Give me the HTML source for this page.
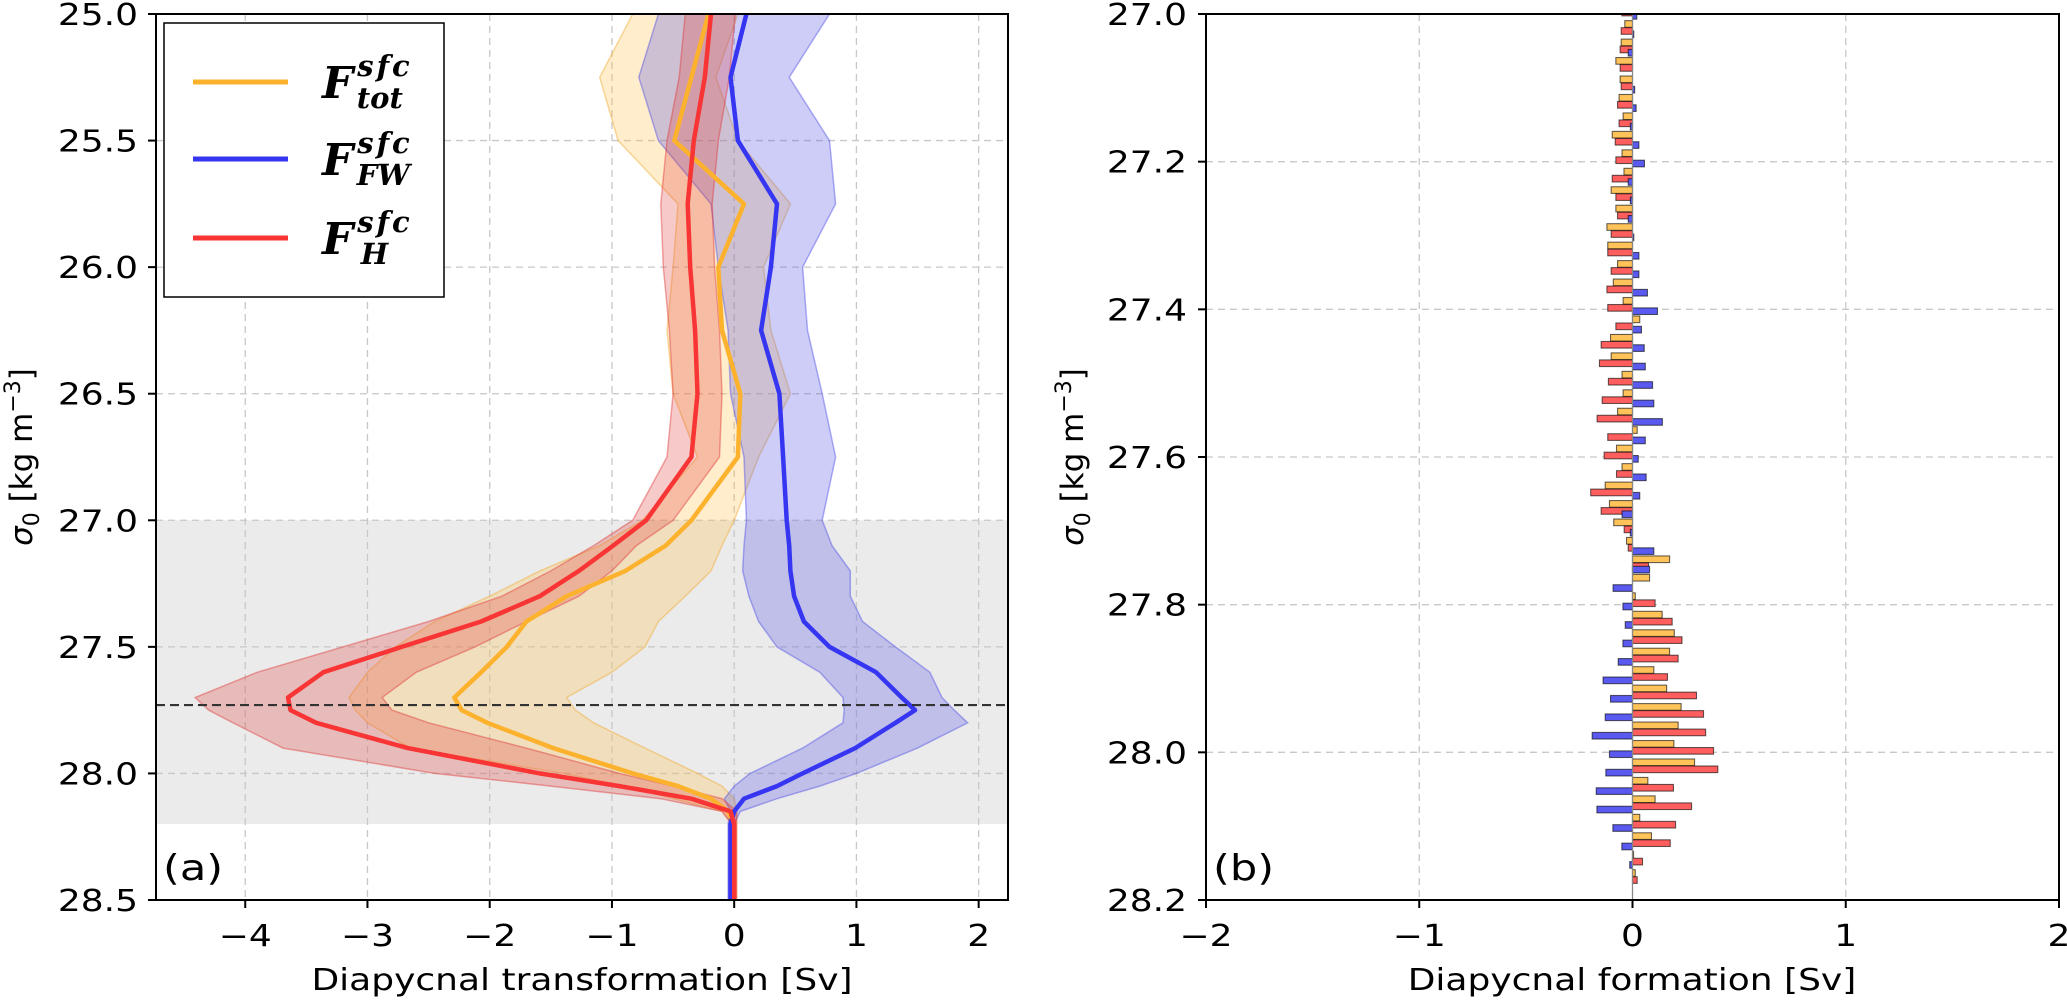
<!DOCTYPE html>
<html><head><meta charset="utf-8"><style>
body{margin:0;background:#fff;}
svg{display:block;font-family:"DejaVu Sans","Liberation Sans",sans-serif;}
</style></head><body>
<svg id="fig" width="2067" height="1000" viewBox="0 0 2067 1000" xmlns="http://www.w3.org/2000/svg">
<g id="panelA"></g>
<g id="panelB"></g>
</svg>
<script>
// ---------- Panel (a) data ----------
const sigmaA = [25.0,25.25,25.5,25.75,26.0,26.25,26.5,26.75,27.0,27.1,27.2,27.3,27.4,27.5,27.6,27.7,27.75,27.8,27.9,28.0,28.05,28.1,28.15,28.2,28.5];
const hMid  = [-0.19,-0.24,-0.33,-0.38,-0.36,-0.32,-0.30,-0.35,-0.72,-0.99,-1.27,-1.59,-2.07,-2.72,-3.36,-3.65,-3.63,-3.42,-2.67,-1.59,-0.94,-0.35,-0.03,0,0];
const hLo   = [-0.40,-0.45,-0.55,-0.60,-0.58,-0.53,-0.50,-0.55,-0.83,-1.15,-1.50,-1.90,-2.50,-3.20,-3.90,-4.41,-4.30,-4.10,-3.69,-2.45,-1.50,-0.60,-0.10,-0.02,-0.02];
const hHi   = [0.01,-0.04,-0.13,-0.18,-0.16,-0.12,-0.10,-0.12,-0.50,-0.80,-1.00,-1.27,-1.70,-2.12,-2.60,-2.88,-2.80,-2.50,-1.70,-0.94,-0.50,-0.10,0.02,0.02,0.02];
const totMid= [-0.21,-0.35,-0.49,0.08,-0.13,-0.10,0.05,0.03,-0.35,-0.56,-0.89,-1.37,-1.70,-1.86,-2.07,-2.29,-2.23,-2.02,-1.48,-0.83,-0.46,-0.19,-0.05,0,0];
const totLo = [-0.83,-1.10,-0.95,-0.46,-0.50,-0.55,-0.50,-0.30,-0.75,-1.10,-1.59,-2.00,-2.45,-2.77,-3.00,-3.15,-3.10,-3.00,-2.65,-1.40,-0.90,-0.50,-0.10,-0.02,-0.02];
const totHi = [0.03,-0.15,0.03,0.46,0.24,0.30,0.46,0.20,0.00,-0.10,-0.19,-0.40,-0.62,-0.73,-1.00,-1.37,-1.30,-1.15,-0.73,-0.30,-0.10,0.00,0.02,0.02,0.02];
const fwMid = [0.10,-0.03,0.03,0.35,0.30,0.22,0.37,0.40,0.43,0.45,0.46,0.49,0.57,0.78,1.16,1.37,1.48,1.32,0.99,0.56,0.35,0.08,0.00,-0.03,-0.03];
const fwLo  = [-0.62,-0.78,-0.62,-0.19,-0.13,-0.05,-0.03,0.08,0.10,0.08,0.07,0.12,0.20,0.35,0.70,0.89,0.90,0.89,0.56,0.13,0.00,-0.08,-0.03,-0.05,-0.05];
const fwHi  = [0.78,0.45,0.78,0.83,0.56,0.60,0.72,0.83,0.72,0.80,0.95,0.95,1.05,1.32,1.60,1.70,1.80,1.91,1.50,1.00,0.70,0.35,0.05,0.00,0.00];
const xTicksA = [-4,-3,-2,-1,0,1,2];
const yTicksA = [25.0,25.5,26.0,26.5,27.0,27.5,28.0,28.5];
const refSigma = 27.73;
const shadeRange = [27.0, 28.2];

// ---------- Panel (b) data ----------
const binSigma = [];
for (let k = 0; k < 48; k++) binSigma.push(27.0 + 0.025 * k);
const formTot = [0,-0.036,-0.053,-0.078,-0.058,-0.063,-0.044,-0.095,-0.049,-0.04,-0.1,-0.078,-0.12,-0.116,-0.07,-0.09,-0.044,0.034,-0.103,-0.1,-0.049,-0.044,-0.07,0.022,-0.075,-0.049,-0.128,-0.108,-0.088,-0.028,0.174,0.08,0.013,0.139,0.196,0.174,0.1,0.16,0.228,0.214,0.194,0.291,0.072,0.106,0.034,0.089,0.005,0.013];
const formH   = [-0.05,-0.053,-0.058,-0.058,-0.053,-0.07,-0.063,-0.081,-0.078,-0.095,-0.078,-0.07,-0.1,-0.116,-0.1,-0.12,-0.116,-0.078,-0.147,-0.155,-0.113,-0.142,-0.166,-0.116,-0.133,-0.075,-0.196,-0.147,-0.039,-0.02,0.075,0.0,0.106,0.186,0.232,0.214,0.164,0.3,0.333,0.343,0.38,0.4,0.192,0.277,0.202,0.177,0.047,0.022];
const formFW  = [0.02,0.006,-0.02,0.0,0.01,0.017,-0.01,0.03,0.056,-0.02,-0.01,-0.02,0.006,0.03,0.03,0.07,0.117,0.042,0.055,0.06,0.094,0.1,0.14,0.06,0.027,0.064,0.034,-0.049,-0.01,0.1,0.08,-0.091,-0.045,-0.034,-0.045,-0.067,-0.138,-0.103,-0.128,-0.189,-0.108,-0.125,-0.17,-0.167,-0.092,-0.05,-0.013,0.0];
const xTicksB = [-2,-1,0,1,2];
const yTicksB = [27.0,27.2,27.4,27.6,27.8,28.0,28.2];

// ---------- helpers ----------
const NS = "http://www.w3.org/2000/svg";
function mk(parent, tag, attrs) {
  const e = document.createElementNS(NS, tag);
  for (const k in attrs) e.setAttribute(k, attrs[k]);
  parent.appendChild(e);
  return e;
}
function txt(parent, x, y, s, anchor, size, name) {
  const t = mk(parent, "text", {transform: `translate(${x},${y}) scale(1.2,1)`, "text-anchor": anchor, "font-size": size, fill: "#000"});
  t.textContent = s;
  
  
  return t;
}
const fmtMinus = v => (v < 0 ? "\u2212" + Math.abs(v) : String(v));

// ---------- Panel (a) ----------
const A = document.getElementById("panelA");
const AX0 = 156, AX1 = 1008, AY0 = 14, AY1 = 900, AXMIN = -4.73, AXMAX = 2.24;
const ax = v => AX0 + (v - AXMIN) / (AXMAX - AXMIN) * (AX1 - AX0);
const ay = s => AY0 + (s - 25.0) / 3.5 * (AY1 - AY0);

const clipA = mk(A, "clipPath", {id: "clipA"});
mk(clipA, "rect", {x: AX0, y: AY0, width: AX1 - AX0, height: AY1 - AY0});

const shade = mk(A, "rect", {x: AX0, y: ay(shadeRange[0]), width: AX1 - AX0, height: ay(shadeRange[1]) - ay(shadeRange[0]), fill: "#ebebeb"});



const gridA = mk(A, "g", {stroke: "#c8c8c8", "stroke-width": 1.3, "stroke-dasharray": "7,5"});


xTicksA.forEach(v => mk(gridA, "line", {x1: ax(v), x2: ax(v), y1: AY0, y2: AY1}));
yTicksA.forEach(v => mk(gridA, "line", {x1: AX0, x2: AX1, y1: ay(v), y2: ay(v)}));

const series = [
  {name: "tot", mid: totMid, lo: totLo, hi: totHi, line: "#fdb22e", fill: "rgba(255,190,70,0.28)", edge: "rgba(240,170,50,0.45)"},
  {name: "fw", mid: fwMid, lo: fwLo, hi: fwHi, line: "#3535f2", fill: "rgba(90,90,230,0.30)", edge: "rgba(80,80,230,0.45)"},
  {name: "h", mid: hMid, lo: hLo, hi: hHi, line: "#f83434", fill: "rgba(225,60,60,0.27)", edge: "rgba(225,60,60,0.45)"}
];
const dataA = mk(A, "g", {"clip-path": "url(#clipA)"});
series.forEach(sr => {
  let d = "";
  sigmaA.forEach((s, i) => { d += (i ? "L" : "M") + ax(sr.lo[i]).toFixed(1) + "," + ay(s).toFixed(1); });
  for (let i = sigmaA.length - 1; i >= 0; i--) d += "L" + ax(sr.hi[i]).toFixed(1) + "," + ay(sigmaA[i]).toFixed(1);
  const band = mk(dataA, "path", {d: d + "Z", fill: sr.fill, stroke: sr.edge, "stroke-width": 1.5});
  
  
});
series.forEach(sr => {
  let d = "";
  sigmaA.forEach((s, i) => { d += (i ? "L" : "M") + ax(sr.mid[i]).toFixed(1) + "," + ay(s).toFixed(1); });
  const ln = mk(dataA, "path", {d: d, fill: "none", stroke: sr.line, "stroke-width": 4.5, "stroke-linejoin": "round"});
  
  
});
const ref = mk(A, "line", {x1: AX0, x2: AX1, y1: ay(refSigma), y2: ay(refSigma), stroke: "#333", "stroke-width": 2.2, "stroke-dasharray": "9,5"});



const frameA = mk(A, "rect", {x: AX0, y: AY0, width: AX1 - AX0, height: AY1 - AY0, fill: "none", stroke: "#000", "stroke-width": 2});



xTicksA.forEach(v => {
  mk(A, "line", {x1: ax(v), x2: ax(v), y1: AY1, y2: AY1 + 8, stroke: "#000", "stroke-width": 2});
  txt(A, ax(v), 946, fmtMinus(v), "middle", 30, "x-tick-label-a");
});
yTicksA.forEach(v => {
  mk(A, "line", {x1: AX0 - 8, x2: AX0, y1: ay(v), y2: ay(v), stroke: "#000", "stroke-width": 2});
  txt(A, 138, ay(v) + 11, v.toFixed(1), "end", 30, "y-tick-label-a");
});
txt(A, 582, 990, "Diapycnal transformation [Sv]", "middle", 30, "x-axis-title-a");
const yta = mk(A, "text", {transform: "translate(32,457) rotate(-90)", "text-anchor": "middle", "font-size": 31});
yta.innerHTML = '<tspan font-style="italic">σ</tspan><tspan font-size="22" dy="7">0</tspan><tspan dy="-7"> [kg m</tspan><tspan font-size="22" dy="-12">−3</tspan><tspan dy="12">]</tspan>';


txt(A, 163, 880, "(a)", "start", 36, "panel-label-a");

// legend
const leg = mk(A, "g", {});


mk(leg, "rect", {x: 164, y: 23, width: 280, height: 274, fill: "#fff", stroke: "#000", "stroke-width": 1.5});
const legItems = [["tot", "#fdb22e", 82, 42], ["FW", "#3535f2", 159, 42], ["H", "#f83434", 238, 38]];
legItems.forEach(it => {
  const g = mk(leg, "g", {});
  
  
  mk(g, "line", {x1: 193, x2: 288, y1: it[2], y2: it[2], stroke: it[1], "stroke-width": 5});
  const t = mk(g, "text", {x: 322, y: it[2] + 16, "font-size": 44, "font-weight": "bold", "font-style": "italic", "font-family": "DejaVu Serif, Liberation Serif, serif"});
  t.innerHTML = 'F<tspan font-size="29" dy="-22" dx="4" letter-spacing="3">sfc</tspan><tspan font-size="29" dy="32" dx="-' + (it[3] + 14) + '">' + it[0] + '</tspan>';
});

// ---------- Panel (b) ----------
const B = document.getElementById("panelB");
const BX0 = 1206, BX1 = 2059, BY0 = 14, BY1 = 900;
const bx = v => BX0 + (v + 2) / 4 * (BX1 - BX0);
const by = s => BY0 + (s - 27.0) / 1.2 * (BY1 - BY0);
const clipB = mk(B, "clipPath", {id: "clipB"});
mk(clipB, "rect", {x: BX0, y: BY0, width: BX1 - BX0, height: BY1 - BY0});

const gridB = mk(B, "g", {stroke: "#c8c8c8", "stroke-width": 1.3, "stroke-dasharray": "7,5"});


xTicksB.forEach(v => mk(gridB, "line", {x1: bx(v), x2: bx(v), y1: BY0, y2: BY1}));
yTicksB.forEach(v => mk(gridB, "line", {x1: BX0, x2: BX1, y1: by(v), y2: by(v)}));

const barsB = mk(B, "g", {"clip-path": "url(#clipB)", stroke: "rgba(0,0,0,0.6)", "stroke-width": 1.1});
const barH = 0.009;
const barSets = [["tot", formTot, "#ffc35a", -0.0115], ["h", formH, "#ff5e5e", -0.002], ["fw", formFW, "#5a5af0", 0.0025]];
binSigma.forEach((s, k) => {
  barSets.forEach(bs => {
    const v = bs[1][k];
    const yc = s + bs[3];
    const r = mk(barsB, "rect", {x: Math.min(bx(0), bx(v)), y: by(yc - barH / 2), width: Math.abs(bx(v) - bx(0)), height: by(yc + barH / 2) - by(yc - barH / 2), fill: bs[2]});
    
    
  });
});
mk(B, "line", {x1: bx(0), x2: bx(0), y1: BY0, y2: BY1, stroke: "#888", "stroke-width": 1.2});

const frameB = mk(B, "rect", {x: BX0, y: BY0, width: BX1 - BX0, height: BY1 - BY0, fill: "none", stroke: "#000", "stroke-width": 2});


xTicksB.forEach(v => {
  mk(B, "line", {x1: bx(v), x2: bx(v), y1: BY1, y2: BY1 + 8, stroke: "#000", "stroke-width": 2});
  txt(B, bx(v), 946, fmtMinus(v), "middle", 30, "x-tick-label-b");
});
yTicksB.forEach(v => {
  mk(B, "line", {x1: BX0 - 8, x2: BX0, y1: by(v), y2: by(v), stroke: "#000", "stroke-width": 2});
  txt(B, 1187, by(v) + 11, v.toFixed(1), "end", 30, "y-tick-label-b");
});
txt(B, 1632, 990, "Diapycnal formation [Sv]", "middle", 30, "x-axis-title-b");
const ytb = mk(B, "text", {transform: "translate(1083,457) rotate(-90)", "text-anchor": "middle", "font-size": 31});
ytb.innerHTML = '<tspan font-style="italic">σ</tspan><tspan font-size="22" dy="7">0</tspan><tspan dy="-7"> [kg m</tspan><tspan font-size="22" dy="-12">−3</tspan><tspan dy="12">]</tspan>';


txt(B, 1213, 880, "(b)", "start", 36, "panel-label-b");
</script>
</body></html>
